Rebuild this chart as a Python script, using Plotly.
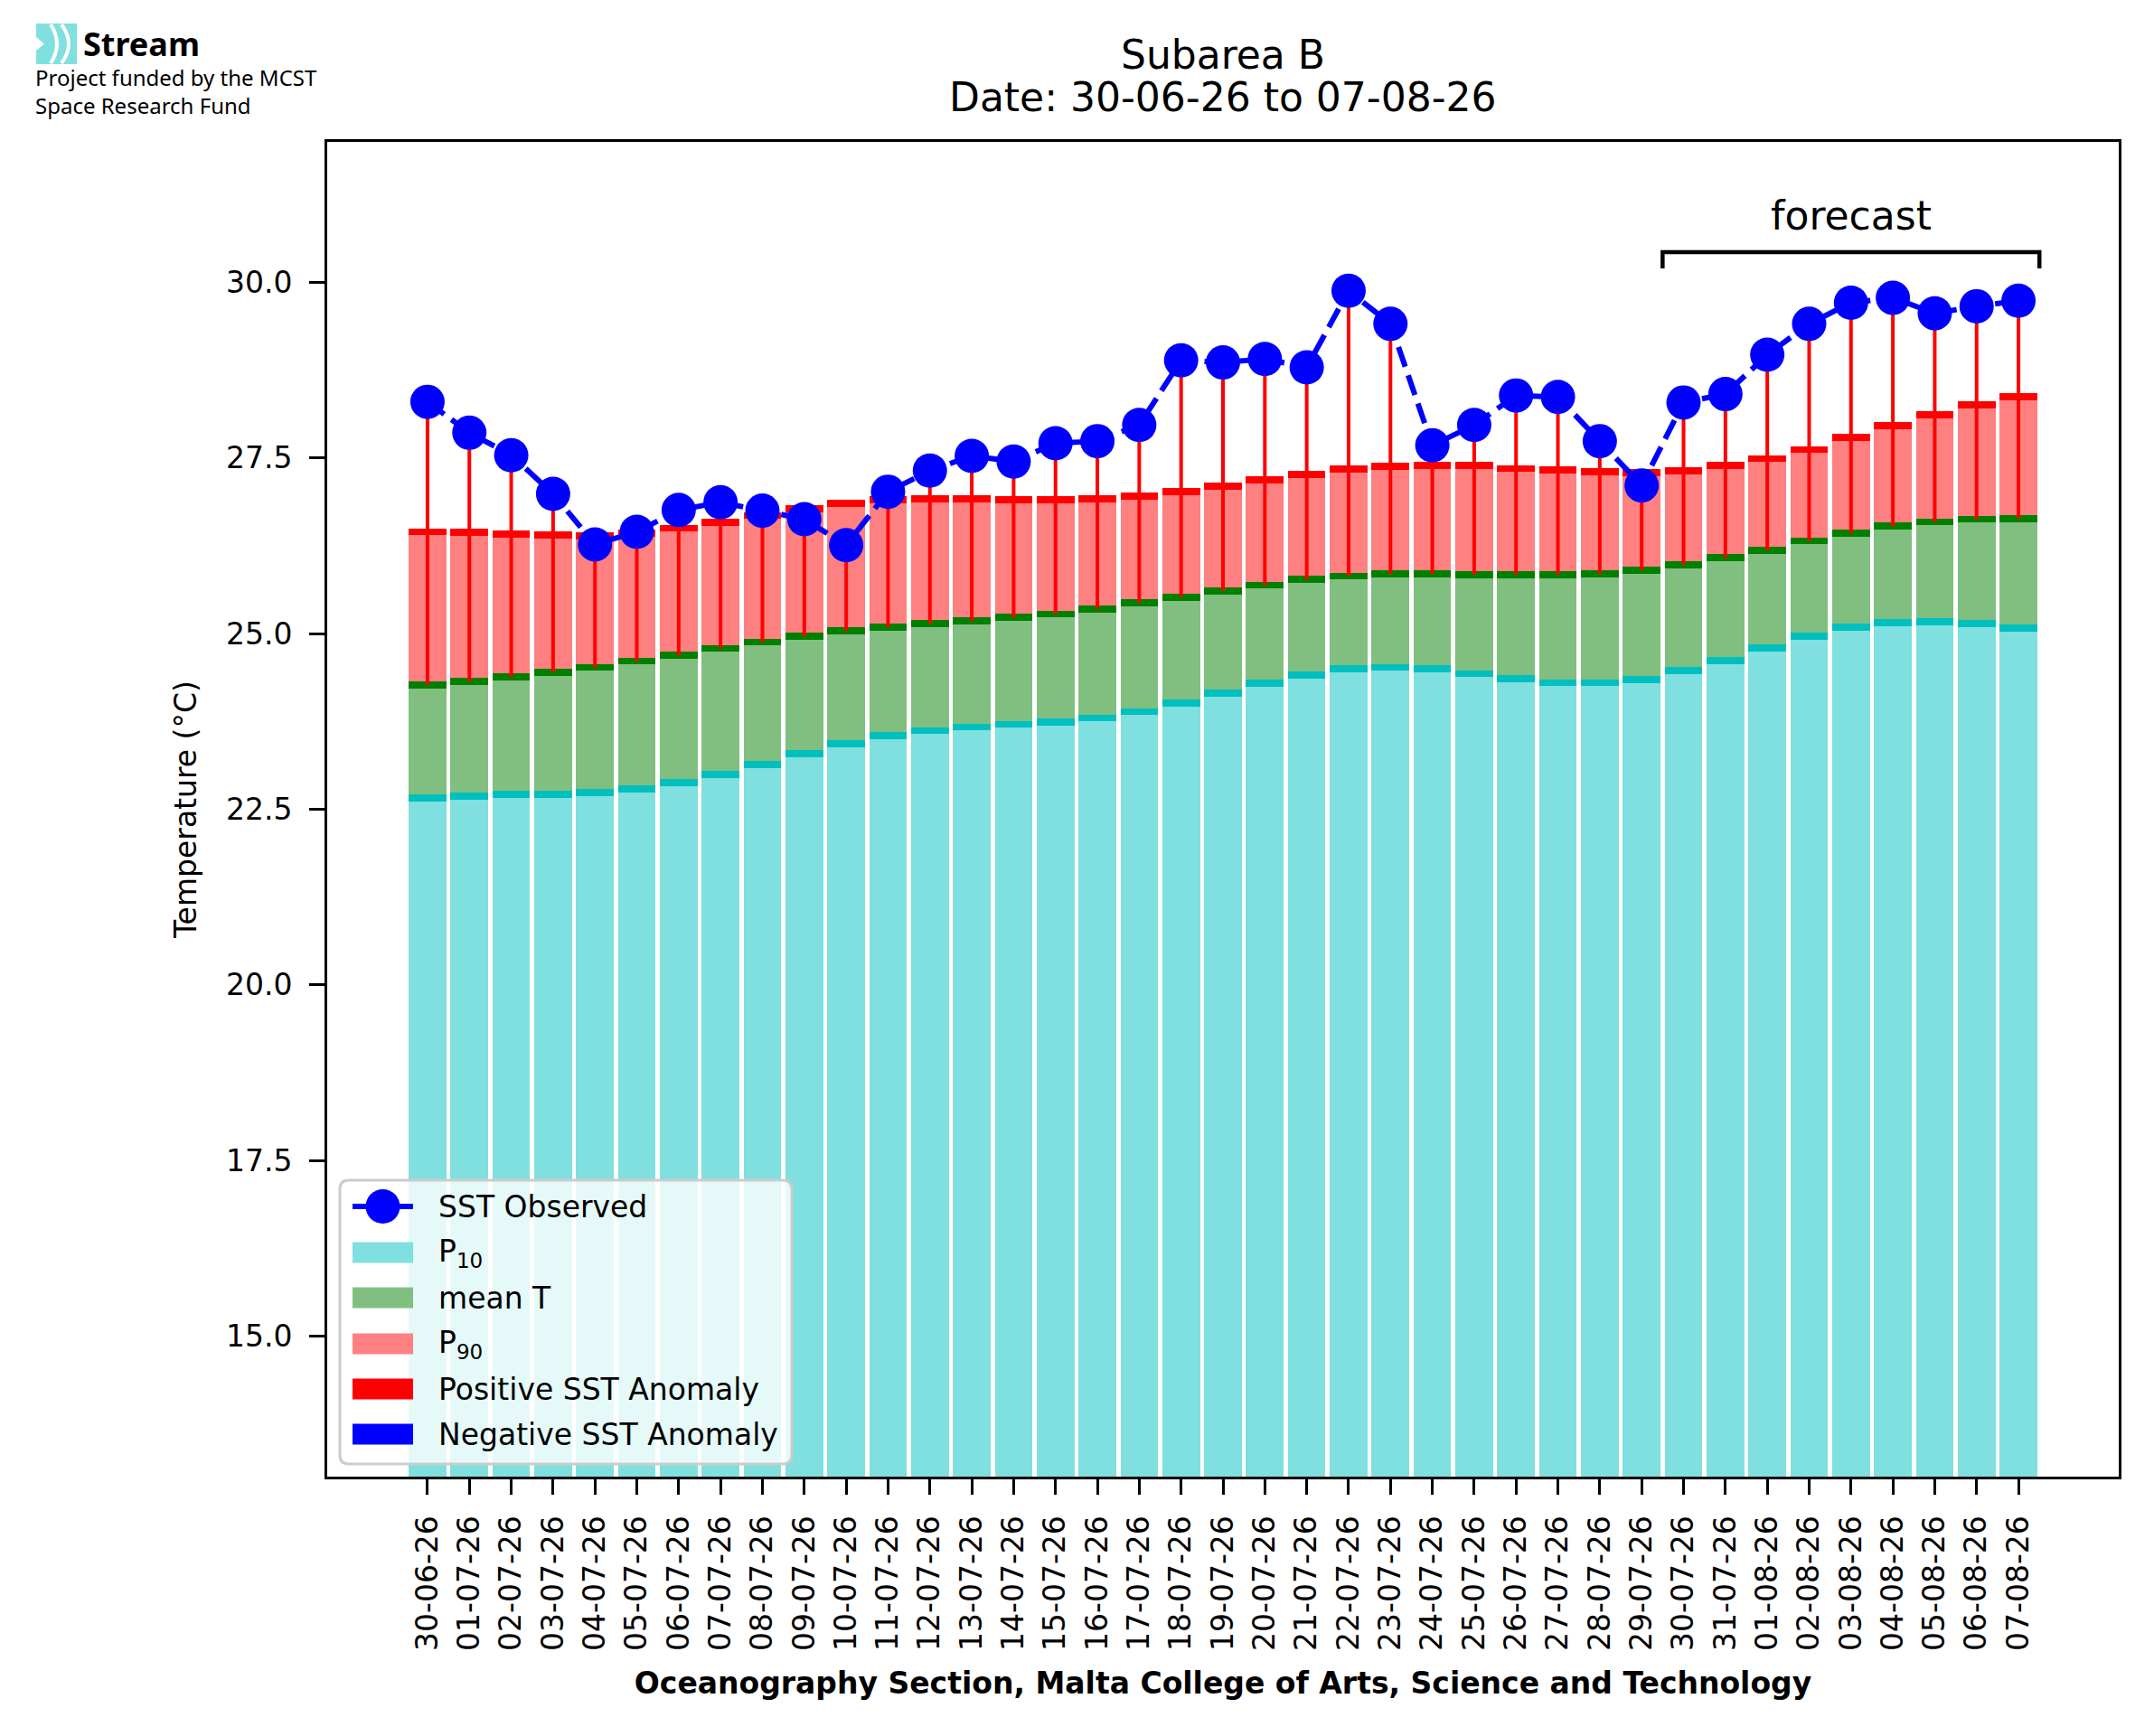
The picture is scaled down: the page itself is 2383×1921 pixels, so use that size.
import plotly.graph_objects as go

# ---------------- data ----------------
dates = ["30-06-26", "01-07-26", "02-07-26", "03-07-26", "04-07-26", "05-07-26",
         "06-07-26", "07-07-26", "08-07-26", "09-07-26", "10-07-26", "11-07-26",
         "12-07-26", "13-07-26", "14-07-26", "15-07-26", "16-07-26", "17-07-26",
         "18-07-26", "19-07-26", "20-07-26", "21-07-26", "22-07-26", "23-07-26",
         "24-07-26", "25-07-26", "26-07-26", "27-07-26", "28-07-26", "29-07-26",
         "30-07-26", "31-07-26", "01-08-26", "02-08-26", "03-08-26", "04-08-26",
         "05-08-26", "06-08-26", "07-08-26"]

sst_observed = [28.30, 27.86, 27.54, 26.99, 26.27, 26.45, 26.76, 26.87, 26.75, 26.63,
                26.26, 27.02, 27.32, 27.53, 27.45, 27.71, 27.74, 27.97, 28.89, 28.86,
                28.91, 28.79, 29.88, 29.41, 27.68, 27.97, 28.39, 28.37, 27.74, 27.11,
                28.29, 28.41, 28.97, 29.41, 29.71, 29.78, 29.56, 29.66, 29.74]

p90 = [26.45, 26.44, 26.42, 26.40, 26.39, 26.43, 26.50, 26.58, 26.68, 26.78,
       26.85, 26.91, 26.92, 26.92, 26.91, 26.91, 26.92, 26.96, 27.02, 27.10,
       27.19, 27.27, 27.34, 27.38, 27.39, 27.39, 27.35, 27.33, 27.30, 27.29,
       27.32, 27.39, 27.49, 27.62, 27.79, 27.96, 28.12, 28.26, 28.37]

mean_t = [24.27, 24.32, 24.38, 24.45, 24.52, 24.61, 24.69, 24.79, 24.88, 24.96,
          25.04, 25.09, 25.14, 25.18, 25.23, 25.28, 25.35, 25.44, 25.52, 25.61,
          25.69, 25.77, 25.82, 25.85, 25.85, 25.84, 25.84, 25.84, 25.85, 25.90,
          25.98, 26.08, 26.19, 26.32, 26.43, 26.53, 26.59, 26.63, 26.64]

p10 = [22.66, 22.69, 22.71, 22.71, 22.74, 22.79, 22.88, 23.00, 23.14, 23.29,
       23.43, 23.55, 23.62, 23.67, 23.71, 23.74, 23.80, 23.89, 24.01, 24.15,
       24.29, 24.41, 24.50, 24.52, 24.50, 24.43, 24.36, 24.30, 24.30, 24.35,
       24.47, 24.62, 24.80, 24.96, 25.09, 25.16, 25.17, 25.14, 25.08]

ytick_values = [15.0, 17.5, 20.0, 22.5, 25.0, 27.5, 30.0]
ytick_labels = ["15.0", "17.5", "20.0", "22.5", "25.0", "27.5", "30.0"]
forecast_start = "30-07-26"
legend_labels = ["SST Observed", "P<sub>10</sub>", "mean T", "P<sub>90</sub>",
                 "Positive SST Anomaly", "Negative SST Anomaly"]

# ---------------- styling ----------------
C_P10, C_P10_CAP = "#80DFDF", "#00BFBF"
C_MEAN, C_MEAN_CAP = "#80BF80", "#008000"
C_P90, C_P90_CAP = "#FF8080", "#FF0000"
BAR_W = 0.9
CAP_H = 0.1
FONT = "DejaVu Sans"

W, H = 2383, 1921
OFF = 8  # page body margin
# plot-area edges in picture pixels
IL, IR, IT, IB = 362, 2344, 157, 1634
L, R, T, B = IL - OFF, IR - OFF, IT - OFF, IB - OFF
PW, PH = R - L, B - T


def px(x):
    """picture x pixel -> paper x"""
    return (x - OFF - L) / PW


def py(y):
    """picture y pixel -> paper y"""
    return 1 - (y - OFF - T) / PH


n = len(dates)
idx = list(range(n))

fig = go.Figure()

# stacked percentile bars
fig.add_trace(go.Bar(x=idx, y=p10, width=BAR_W, marker=dict(color=C_P10, line=dict(width=0)),
                     name="P10", hoverinfo="skip"))
fig.add_trace(go.Bar(x=idx, y=[m - a for m, a in zip(mean_t, p10)], base=p10, width=BAR_W,
                     marker=dict(color=C_MEAN, line=dict(width=0)), name="mean T", hoverinfo="skip"))
fig.add_trace(go.Bar(x=idx, y=[b - m for b, m in zip(p90, mean_t)], base=mean_t, width=BAR_W,
                     marker=dict(color=C_P90, line=dict(width=0)), name="P90", hoverinfo="skip"))

# anomaly stems (observed vs mean)
pos_x, pos_y, neg_x, neg_y = [], [], [], []
for i, (m, o) in enumerate(zip(mean_t, sst_observed)):
    if o >= m:
        pos_x += [i, i, None]
        pos_y += [m, o, None]
    else:
        neg_x += [i, i, None]
        neg_y += [m, o, None]
fig.add_trace(go.Scatter(x=pos_x, y=pos_y, mode="lines", line=dict(color="red", width=4),
                         name="Positive SST Anomaly", hoverinfo="skip"))
if neg_x:
    fig.add_trace(go.Scatter(x=neg_x, y=neg_y, mode="lines", line=dict(color="blue", width=4),
                             name="Negative SST Anomaly", hoverinfo="skip"))

# caps at the top of each segment
for vals, col in ((p10, C_P10_CAP), (mean_t, C_MEAN_CAP), (p90, C_P90_CAP)):
    fig.add_trace(go.Bar(x=idx, y=[CAP_H] * n, base=[v - CAP_H / 2 for v in vals], width=BAR_W,
                         marker=dict(color=col, line=dict(width=0)), hoverinfo="skip",
                         showlegend=False))

# observed SST
fig.add_trace(go.Scatter(x=idx, y=sst_observed, mode="lines+markers",
                         line=dict(color="blue", width=6, dash="23px,10px"),
                         marker=dict(color="blue", size=38, line=dict(width=0)),
                         name="SST Observed"))

# forecast bracket
i0 = dates.index(forecast_start)
fx0, fx1 = i0 - 0.5, n - 0.5
shapes = [dict(type="path", xref="x", yref="y",
               path=f"M{fx0},30.2 L{fx0},30.43 L{fx1},30.43 L{fx1},30.2",
               line=dict(color="black", width=4.5))]
annotations = [dict(x=(fx0 + fx1) / 2, y=30.6, xref="x", yref="y", text="forecast",
                    showarrow=False, yanchor="bottom", font=dict(size=44, family=FONT))]

# second title line
annotations.append(dict(x=0.5, y=py(108), xref="paper", yref="paper",
                        text=f"Date: {dates[0]} to {dates[-1]}", showarrow=False,
                        xanchor="center", yanchor="middle", font=dict(size=44, family=FONT)))


# ---------------- custom legend ----------------
def P(x, y):
    return f"{px(x)},{py(y)}"


lx0, ly0, lx1, ly1, rr = 376, 1306, 876, 1620, 10
legend_path = (f"M{P(lx0 + rr, ly0)} L{P(lx1 - rr, ly0)} Q{P(lx1, ly0)} {P(lx1, ly0 + rr)} "
               f"L{P(lx1, ly1 - rr)} Q{P(lx1, ly1)} {P(lx1 - rr, ly1)} L{P(lx0 + rr, ly1)} "
               f"Q{P(lx0, ly1)} {P(lx0, ly1 - rr)} L{P(lx0, ly0 + rr)} Q{P(lx0, ly0)} {P(lx0 + rr, ly0)} Z")
shapes.append(dict(type="path", xref="paper", yref="paper", path=legend_path,
                   fillcolor="rgba(255,255,255,0.8)", line=dict(color="#cccccc", width=3)))
row_y = [1335, 1386, 1436, 1487, 1537, 1587]
hx0, hx1 = 390, 457
patch_cols = [None, C_P10, C_MEAN, C_P90, "#FF0000", "#0000FF"]
for k, (lab, yy) in enumerate(zip(legend_labels, row_y)):
    if k == 0:
        shapes.append(dict(type="line", xref="paper", yref="paper", x0=px(hx0), x1=px(hx1),
                           y0=py(yy), y1=py(yy), line=dict(color="blue", width=6)))
        cx = (hx0 + hx1) / 2
        shapes.append(dict(type="circle", xref="paper", yref="paper", x0=px(cx - 19), x1=px(cx + 19),
                           y0=py(yy + 19), y1=py(yy - 19), fillcolor="blue", line=dict(width=0)))
    else:
        shapes.append(dict(type="rect", xref="paper", yref="paper", x0=px(hx0), x1=px(hx1),
                           y0=py(yy + 11.5), y1=py(yy - 11.5), fillcolor=patch_cols[k], line=dict(width=0)))
    annotations.append(dict(x=px(483), y=py(yy), xref="paper", yref="paper", text=lab,
                            showarrow=False, xanchor="left", yanchor="middle",
                            font=dict(size=33, family=FONT)))

# ---------------- logo ----------------
shapes.append(dict(type="rect", xref="paper", yref="paper", x0=px(40), x1=px(85), y0=py(71), y1=py(26),
                   fillcolor="#80DFDF", line=dict(width=0)))
for ax0, ctrl in ((56, 70), (68, 84)):
    shapes.append(dict(type="path", xref="paper", yref="paper",
                       path=f"M{P(ax0, 27)} Q{P(ctrl, 48.5)} {P(ax0, 70)}",
                       line=dict(color="white", width=4)))
shapes.append(dict(type="path", xref="paper", yref="paper",
                   path=f"M{P(40, 41)} L{P(49, 48.5)} L{P(40, 56)} Z",
                   fillcolor="white", line=dict(width=0)))
annotations.append(dict(x=px(90), y=py(49), xref="paper", yref="paper", text="<b>Stream</b>",
                        showarrow=False, xanchor="left", yanchor="middle",
                        font=dict(size=36, family="Noto Sans", color="black")))
annotations.append(dict(x=px(37), y=py(67), xref="paper", yref="paper",
                        text="Project funded by the MCST<br>Space Research Fund",
                        showarrow=False, xanchor="left", yanchor="top", align="left",
                        font=dict(size=24, family="Noto Sans", color="black")))

fig.update_layout(
    width=W, height=H,
    margin=dict(l=L, r=W - R, t=T, b=H - B, pad=0),
    plot_bgcolor="white", paper_bgcolor="white",
    font=dict(family=FONT, size=33, color="black"),
    barmode="overlay", bargap=0, showlegend=False,
    title=dict(text="Subarea B", x=0.5, xref="paper",
               y=1 - (61 - OFF) / H, yref="container", yanchor="middle",
               font=dict(size=44, family=FONT, color="black")),
    shapes=shapes, annotations=annotations,
)
fig.update_xaxes(range=[-2.395, n - 1 + 2.395], tickmode="array", tickvals=idx, ticktext=dates,
                 tickangle=-90, ticks="outside", ticklen=17, tickwidth=3, tickcolor="black",
                 showline=True, linewidth=3, linecolor="black", mirror=True,
                 showgrid=False, zeroline=False, ticklabelstandoff=10,
                 tickfont=dict(size=33, family=FONT),
                 title=dict(text="<b>Oceanography Section, Malta College of Arts, Science and Technology</b>",
                            font=dict(size=33, family=FONT), standoff=25))
fig.update_yaxes(range=[13, 32], tickmode="array", tickvals=ytick_values, ticktext=ytick_labels,
                 ticks="outside", ticklen=17, tickwidth=3, tickcolor="black",
                 showline=True, linewidth=3, linecolor="black", mirror=True,
                 showgrid=False, zeroline=False, ticklabelstandoff=12,
                 tickfont=dict(size=33, family=FONT),
                 title=dict(text="Temperature (°C)", font=dict(size=33, family=FONT), standoff=23))

fig.write_html("out.html")
